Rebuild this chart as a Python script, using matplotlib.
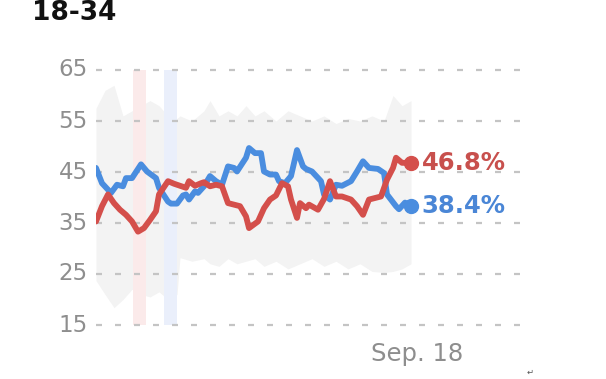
import matplotlib
matplotlib.use("Agg")
import matplotlib.pyplot as plt

# ---------------- data ----------------
title = "18-34"
y_ticks = [15, 25, 35, 45, 55, 65]
x_tick_day = 107
x_tick_label = "Sep. 18"

blue_days = [0, 2, 5, 7, 9, 10, 12, 15, 17, 20, 21, 24, 25, 27, 29, 30, 31, 33, 34, 36,
             38, 40, 42, 44, 46, 47, 50, 51, 53, 55, 56, 58, 60, 61, 63, 65, 67, 69, 70, 72,
             75, 76, 78, 80, 82, 85, 87, 89, 91, 94, 96, 97, 100, 101, 103, 105]
blue_vals = [45.8, 42.8, 40.9, 42.5, 42.2, 43.8, 43.8, 46.5, 45.1, 43.8, 41.9, 39.2, 38.8, 38.8,
             40.4, 40.6, 39.6, 41.2, 40.9, 42.2, 44.2, 43.2, 42.5, 46.1, 45.8, 45.1, 47.8, 49.7,
             48.7, 48.7, 45.1, 44.5, 44.5, 43.2, 42.8, 44.2, 49.3, 46.1, 45.6, 45.1, 43.2, 40.6,
             39.6, 42.5, 42.3, 43.2, 45.1, 47.1, 45.8, 45.6, 44.8, 40.6, 38.3, 37.7, 39.0, 38.4]

red_days = [0, 2, 4, 6, 8, 10, 12, 14, 16, 18, 20, 21, 24, 26, 28, 30, 31, 33, 35, 36,
            38, 40, 42, 44, 46, 48, 50, 51, 54, 56, 58, 60, 62, 64, 65, 67, 68, 70, 71, 74,
            76, 78, 80, 82, 85, 87, 89, 91, 93, 95, 97, 99, 100, 102, 105]
red_vals = [35.3, 38.3, 40.6, 38.9, 37.6, 36.6, 35.3, 33.3, 34.0, 35.6, 37.3, 40.6, 43.2, 42.7,
            42.3, 41.9, 43.2, 42.3, 42.8, 43.0, 42.2, 42.5, 42.2, 38.9, 38.6, 38.3, 36.3, 34.0,
            35.3, 37.9, 39.6, 40.4, 42.8, 42.2, 39.6, 36.0, 38.9, 37.9, 38.6, 37.6, 39.7, 43.2,
            40.2, 40.2, 39.6, 38.3, 36.6, 39.6, 39.9, 40.2, 43.5, 45.8, 47.8, 46.8, 46.8]

band_days = [0, 3, 6, 9, 12, 15, 18, 21, 24, 27, 28, 32, 36, 38, 41, 44, 47, 50, 53, 56,
             60, 64, 68, 72, 76, 80, 84, 88, 92, 96, 99, 102, 105]
band_upper = [57.5, 61, 62, 56, 57, 58, 59, 58, 56, 55.5, 56, 55, 57, 59, 56, 57, 56, 58, 56, 57,
              55, 57, 56, 55, 56, 54.5, 55.5, 55, 56, 55, 60, 58, 59]
band_lower = [23.7, 21, 18.4, 20, 22, 21, 20.5, 21.5, 20, 21, 28.2, 27.5, 28, 27, 26.5, 28, 27,
              27.5, 28, 26.5, 27.5, 26, 27, 28, 26.5, 27.5, 26, 27, 25.5, 25.3, 25.5, 26, 27]

red_event = (12.3, 16.7)
blue_event = (22.7, 27.0)

red_label = "46.8%"
blue_label = "38.4%"

# ---------------- style ----------------
RED = "#d44f4b"
BLUE = "#4a8ddf"
RED_TXT = "#c8504d"
BLUE_TXT = "#4a86d6"
GRID = "#c4c4c4"
TICK = "#8e8e8e"
FONT = "DejaVu Sans"

W, H = 606, 379
fig = plt.figure(figsize=(W / 100, H / 100), dpi=100)
ax = fig.add_axes([96 / W, 1 - 335.2 / H, 426 / W, 275.4 / H])
ax.set_xlim(0, 142)
ax.set_ylim(13, 67)
ax.axis("off")

# uncertainty band
ax.fill_between(band_days, band_lower, band_upper, color="#f3f3f3", lw=0, zorder=1)

# event stripes
ax.fill_between(red_event, 15, 65, color="#fbeaea", lw=0, zorder=2)
ax.fill_between(blue_event, 15, 65, color="#eaeffb", lw=0, zorder=2)

# gridlines
for yt in y_ticks:
    ax.plot([0, 142], [yt, yt], color=GRID, lw=1.6, ls=(0, (2.7, 5.85)), zorder=3,
            dash_capstyle="butt", clip_on=False)
    ax.text(-2.7, yt, str(yt), ha="right", va="center", fontsize=16.5, color=TICK,
            family=FONT)

# lines
ax.plot(blue_days, blue_vals, color=BLUE, lw=4.2, zorder=5, solid_joinstyle="round",
        solid_capstyle="round")
ax.plot(red_days, red_vals, color=RED, lw=4.2, zorder=6, solid_joinstyle="round",
        solid_capstyle="round")
ax.plot(blue_days[-1], blue_vals[-1], "o", color=BLUE, ms=10, zorder=7)
ax.plot(red_days[-1], red_vals[-1], "o", color=RED, ms=10, zorder=7)

# end labels
ax.text(red_days[-1] + 3.6, red_vals[-1], red_label, ha="left", va="center",
        fontsize=17.5, color=RED_TXT, family=FONT, fontweight="bold")
ax.text(blue_days[-1] + 3.6, blue_vals[-1], blue_label, ha="left", va="center",
        fontsize=17.5, color=BLUE_TXT, family=FONT, fontweight="bold")

# x tick label
ax.text(x_tick_day, 9.3, x_tick_label, ha="center", va="center", fontsize=17.5,
        color=TICK, family=FONT)

# title
fig.text(32 / W, 1 - 13 / H, title, ha="left", va="center", fontsize=19,
         fontweight="bold", color="#111111", family=FONT)

# stray mark
fig.text(530 / W, 1 - 372 / H, "\u21b5", ha="center", va="center", fontsize=6,
         color="#555555", family=FONT)

fig.savefig("out.png", dpi=100)
